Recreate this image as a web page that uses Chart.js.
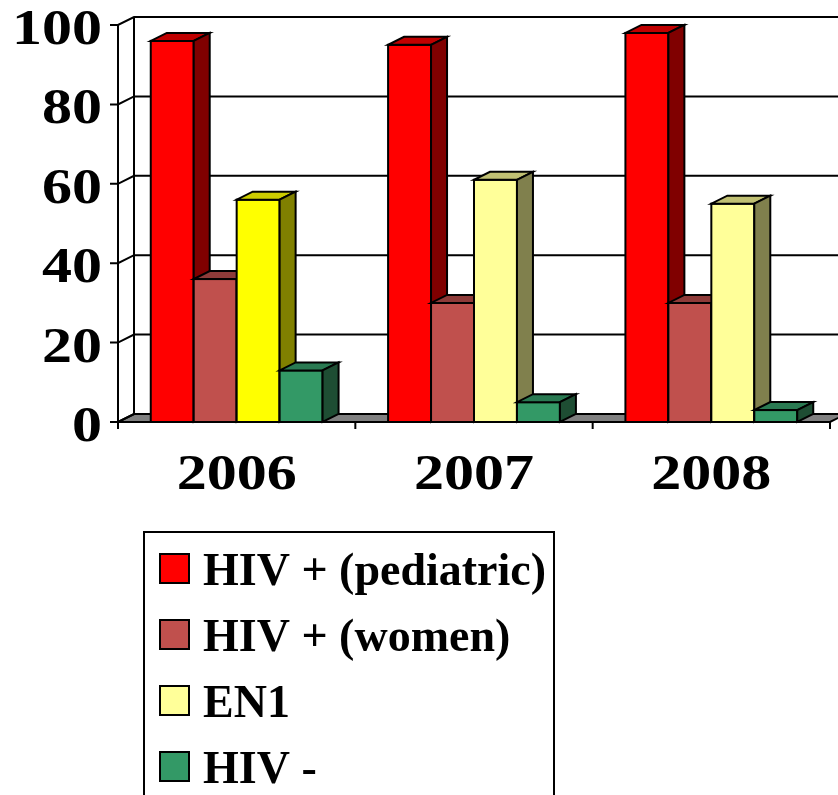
<!DOCTYPE html>
<html>
<head>
<meta charset="utf-8">
<title>HIV bar chart</title>
<script src="https://cdn.jsdelivr.net/npm/chart.js@4"></script>
<style>
  body { margin: 0; background: #fff; }
  canvas { display: block; }
</style>
</head>
<body>
<canvas id="chart" width="838" height="795"></canvas>
<script>
// data
const categories = ['2006', '2007', '2008'];
const seriesNames = ['HIV + (pediatric)', 'HIV + (women)', 'EN1', 'HIV -'];
const pediatric = [96, 95, 98];
const women = [36, 30, 30];
const en1 = [56, 61, 55];
const hivNeg = [13, 5, 3];
const yTicks = [0, 20, 40, 60, 80, 100];

// 3d look
const DX = 16, DY = -8;
const FONT = '"Liberation Serif", "Times New Roman", serif';

function pick(v, i) { return Array.isArray(v) ? v[i] : v; }

const threeD = {
  id: 'threeD',
  beforeDatasetsDraw(chart) {
    const ctx = chart.ctx;
    const { left, right, top, bottom } = chart.chartArea;
    const y = chart.scales.y;
    ctx.save();
    ctx.strokeStyle = '#000';
    ctx.lineWidth = 2;
    // floor
    ctx.fillStyle = '#808080';
    ctx.beginPath();
    ctx.moveTo(left, bottom);
    ctx.lineTo(right, bottom);
    ctx.lineTo(right + DX, bottom + DY);
    ctx.lineTo(left + DX, bottom + DY);
    ctx.closePath();
    ctx.fill();
    ctx.stroke();
    // walls + ticks
    y.ticks.forEach(t => {
      const py = y.getPixelForValue(t.value);
      ctx.beginPath();
      ctx.moveTo(left - 8, py);
      ctx.lineTo(left, py);
      ctx.lineTo(left + DX, py + DY);
      ctx.lineTo(right + DX + 20, py + DY);
      ctx.stroke();
    });
    ctx.beginPath();
    ctx.moveTo(left + DX, top + DY);
    ctx.lineTo(left + DX, bottom + DY);
    ctx.moveTo(left, top);
    ctx.lineTo(left, bottom + 7);
    ctx.stroke();
    ctx.restore();
  },
  // redraw bars left to right so each side face sits behind the next bar
  afterDatasetsDraw(chart) {
    const ctx = chart.ctx;
    ctx.save();
    ctx.strokeStyle = '#000';
    ctx.lineWidth = 2;
    ctx.lineJoin = 'miter';
    chart.data.datasets.forEach((ds, di) => {
      const meta = chart.getDatasetMeta(di);
      meta.data.forEach((bar, i) => {
        const l = bar.x - bar.width / 2, r = bar.x + bar.width / 2;
        const t = bar.y, b = bar.base;
        bar.draw(ctx);
        ctx.strokeStyle = '#000';
        ctx.lineWidth = 2;
        ctx.strokeRect(l, t, r - l, b - t);
        // top face
        ctx.fillStyle = pick(ds.topColor, i);
        ctx.beginPath();
        ctx.moveTo(l, t);
        ctx.lineTo(r, t);
        ctx.lineTo(r + DX, t + DY);
        ctx.lineTo(l + DX, t + DY);
        ctx.closePath();
        ctx.fill();
        ctx.stroke();
        // side face
        ctx.fillStyle = pick(ds.sideColor, i);
        ctx.beginPath();
        ctx.moveTo(r, t);
        ctx.lineTo(r + DX, t + DY);
        ctx.lineTo(r + DX, b + DY);
        ctx.lineTo(r, b);
        ctx.closePath();
        ctx.fill();
        ctx.stroke();
      });
    });
    ctx.restore();
  },
  afterDraw(chart) {
    const ctx = chart.ctx;
    const { left, right, bottom } = chart.chartArea;
    const x = chart.scales.x, y = chart.scales.y;
    ctx.save();
    ctx.strokeStyle = '#000';
    ctx.lineWidth = 2;
    // front x axis and category ticks
    ctx.beginPath();
    ctx.moveTo(left, bottom);
    ctx.lineTo(right, bottom);
    const step = (right - left) / categories.length;
    for (let k = 1; k <= categories.length; k++) {
      ctx.moveTo(left + step * k, bottom);
      ctx.lineTo(left + step * k, bottom + 7);
    }
    ctx.stroke();

    // tick labels, a bit wide like the original
    ctx.fillStyle = '#000';
    ctx.font = 'bold 50px ' + FONT;
    ctx.textBaseline = 'alphabetic';
    y.ticks.forEach(t => {
      const py = y.getPixelForValue(t.value);
      ctx.save();
      ctx.translate(left - 16, py + 19);
      ctx.scale(1.2, 1);
      ctx.textAlign = 'right';
      ctx.fillText(String(t.value), 0, 0);
      ctx.restore();
    });
    categories.forEach((c, i) => {
      const px = x.getPixelForValue(i);
      ctx.save();
      ctx.translate(px, bottom + 67);
      ctx.scale(1.2, 1);
      ctx.textAlign = 'center';
      ctx.fillText(c, 0, 0);
      ctx.restore();
    });

    // legend
    ctx.strokeRect(144, 532, 410, 300);
    ctx.font = 'bold 46px ' + FONT;
    ctx.textAlign = 'left';
    chart.data.datasets.forEach((ds, i) => {
      const bg = ds.backgroundColor;
      const col = Array.isArray(bg) ? bg[bg.length - 1] : bg;
      const sy = 554 + i * 66;
      ctx.fillStyle = col;
      ctx.fillRect(160, sy, 29, 29);
      ctx.strokeRect(160, sy, 29, 29);
      ctx.fillStyle = '#000';
      ctx.fillText(ds.label, 203, sy + 31);
    });
    ctx.restore();
  }
};

new Chart(document.getElementById('chart'), {
  type: 'bar',
  data: {
    labels: categories,
    datasets: [
      { label: seriesNames[0], data: pediatric,
        backgroundColor: '#FF0000', topColor: '#C00000', sideColor: '#800000' },
      { label: seriesNames[1], data: women,
        backgroundColor: '#C0504D', topColor: '#8E3B39', sideColor: '#7A2E2C' },
      { label: seriesNames[2], data: en1,
        backgroundColor: ['#FFFF00', '#FFFF99', '#FFFF99'],
        topColor: ['#CCCC00', '#C0C073', '#C0C073'],
        sideColor: ['#808000', '#80804D', '#80804D'] },
      { label: seriesNames[3], data: hivNeg,
        backgroundColor: '#339966', topColor: '#2A7A52', sideColor: '#1E4D33' }
    ]
  },
  options: {
    responsive: false,
    animation: false,
    events: [],
    layout: { padding: { top: 25, right: 8, bottom: 313, left: 0 } },
    datasets: { bar: { categoryPercentage: 0.724, barPercentage: 1.0, borderWidth: 0 } },
    plugins: { legend: { display: false }, tooltip: { enabled: false } },
    scales: {
      x: {
        grid: { display: false },
        border: { display: false },
        ticks: { display: false },
        afterFit: s => { s.height = 60; }
      },
      y: {
        min: yTicks[0],
        max: yTicks[yTicks.length - 1],
        afterBuildTicks: s => { s.ticks = yTicks.map(v => ({ value: v })); },
        grid: { display: false },
        border: { display: false },
        ticks: { display: false },
        afterFit: s => { s.width = 118; }
      }
    }
  },
  plugins: [threeD]
});
</script>
</body>
</html>
